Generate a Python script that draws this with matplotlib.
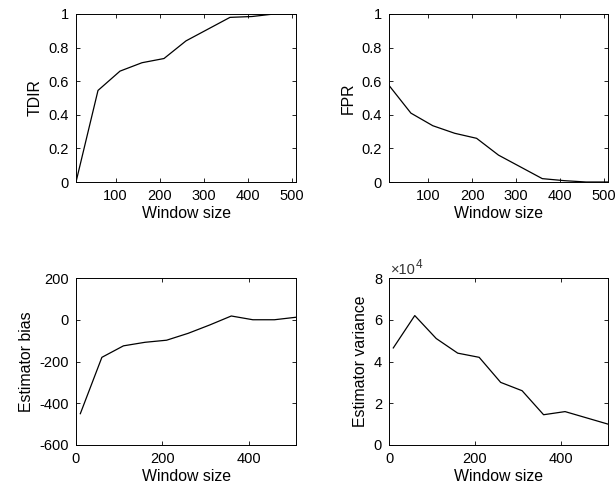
import numpy as np
import matplotlib
matplotlib.use('Agg')
import matplotlib.pyplot as plt
from matplotlib.ticker import FuncFormatter

plt.rcParams['font.family'] = ['Liberation Sans', 'DejaVu Sans']
plt.rcParams['axes.unicode_minus'] = False

# Dados
janela = [10, 60, 110, 160, 210, 260, 310, 360, 410, 460, 510]
tdir = [0.0, 0.545, 0.66, 0.71, 0.735, 0.84, 0.91, 0.98, 0.985, 1.0, 1.0]
fpr = [0.575, 0.41, 0.335, 0.29, 0.26, 0.16, 0.09, 0.02, 0.008, 0.0, 0.0]
vies = [-450, -180, -125, -108, -98, -65, -25, 18, 0, 0, 12]
variancia = [46500, 62000, 51000, 44000, 42000, 30000, 26000, 14500, 16000, 13000, 10000]

fig = plt.figure(figsize=(6.15, 4.92), dpi=100)
W, H = 615, 492


def eixo(x0, y0, x1, y1):
    return fig.add_axes([x0 / W, 1 - y1 / H, (x1 - x0) / W, (y1 - y0) / H])


def estilo(ax, ylabel):
    ax.tick_params(direction='in', top=True, right=True, labelsize=10.5,
                   length=3, width=0.6, pad=5)
    for s in ax.spines.values():
        s.set_linewidth(0.7)
    ax.set_xlabel('Window size', fontsize=11.4, labelpad=2)
    ax.set_ylabel(ylabel, fontsize=11.4)
    ax.yaxis.set_major_formatter(FuncFormatter(lambda v, p: '%g' % v))


ax1 = eixo(76, 14, 296, 182)
ax1.plot(janela, tdir, color='black', lw=0.9)
ax1.set_xlim(10, 510)
ax1.set_ylim(0, 1)
ax1.set_xticks([100, 200, 300, 400, 500])
ax1.set_yticks(np.arange(0, 1.01, 0.2))
estilo(ax1, 'TDIR')

ax2 = eixo(389, 14, 608, 182)
ax2.plot(janela, fpr, color='black', lw=0.9)
ax2.set_xlim(10, 510)
ax2.set_ylim(0, 1)
ax2.set_xticks([100, 200, 300, 400, 500])
ax2.set_yticks(np.arange(0, 1.01, 0.2))
estilo(ax2, 'FPR')

ax3 = eixo(76, 278, 296, 445)
ax3.plot(janela, vies, color='black', lw=0.9)
ax3.set_xlim(0, 510)
ax3.set_ylim(-600, 200)
ax3.set_xticks([0, 200, 400])
ax3.set_yticks([-600, -400, -200, 0, 200])
estilo(ax3, 'Estimator bias')

ax4 = eixo(389, 278, 608, 445)
ax4.plot(janela, variancia, color='black', lw=0.9)
ax4.set_xlim(0, 510)
ax4.set_ylim(0, 80000)
ax4.set_xticks([0, 200, 400])
ax4.set_yticks([0, 20000, 40000, 60000, 80000])
estilo(ax4, 'Estimator variance')
ax4.yaxis.set_major_formatter(FuncFormatter(lambda v, p: '%g' % (v / 1e4)))
# multiplicador estilo MATLAB
ax4.text(391 / W, 1 - 274 / H, '\u00d710', transform=fig.transFigure,
         fontsize=10.5, ha='left', va='baseline', color='#333333')
ax4.text(416 / W, 1 - 279 / H + 0.022, '4', transform=fig.transFigure,
         fontsize=8.5, ha='left', va='baseline', color='#333333')

plt.savefig('out.png', dpi=100)
